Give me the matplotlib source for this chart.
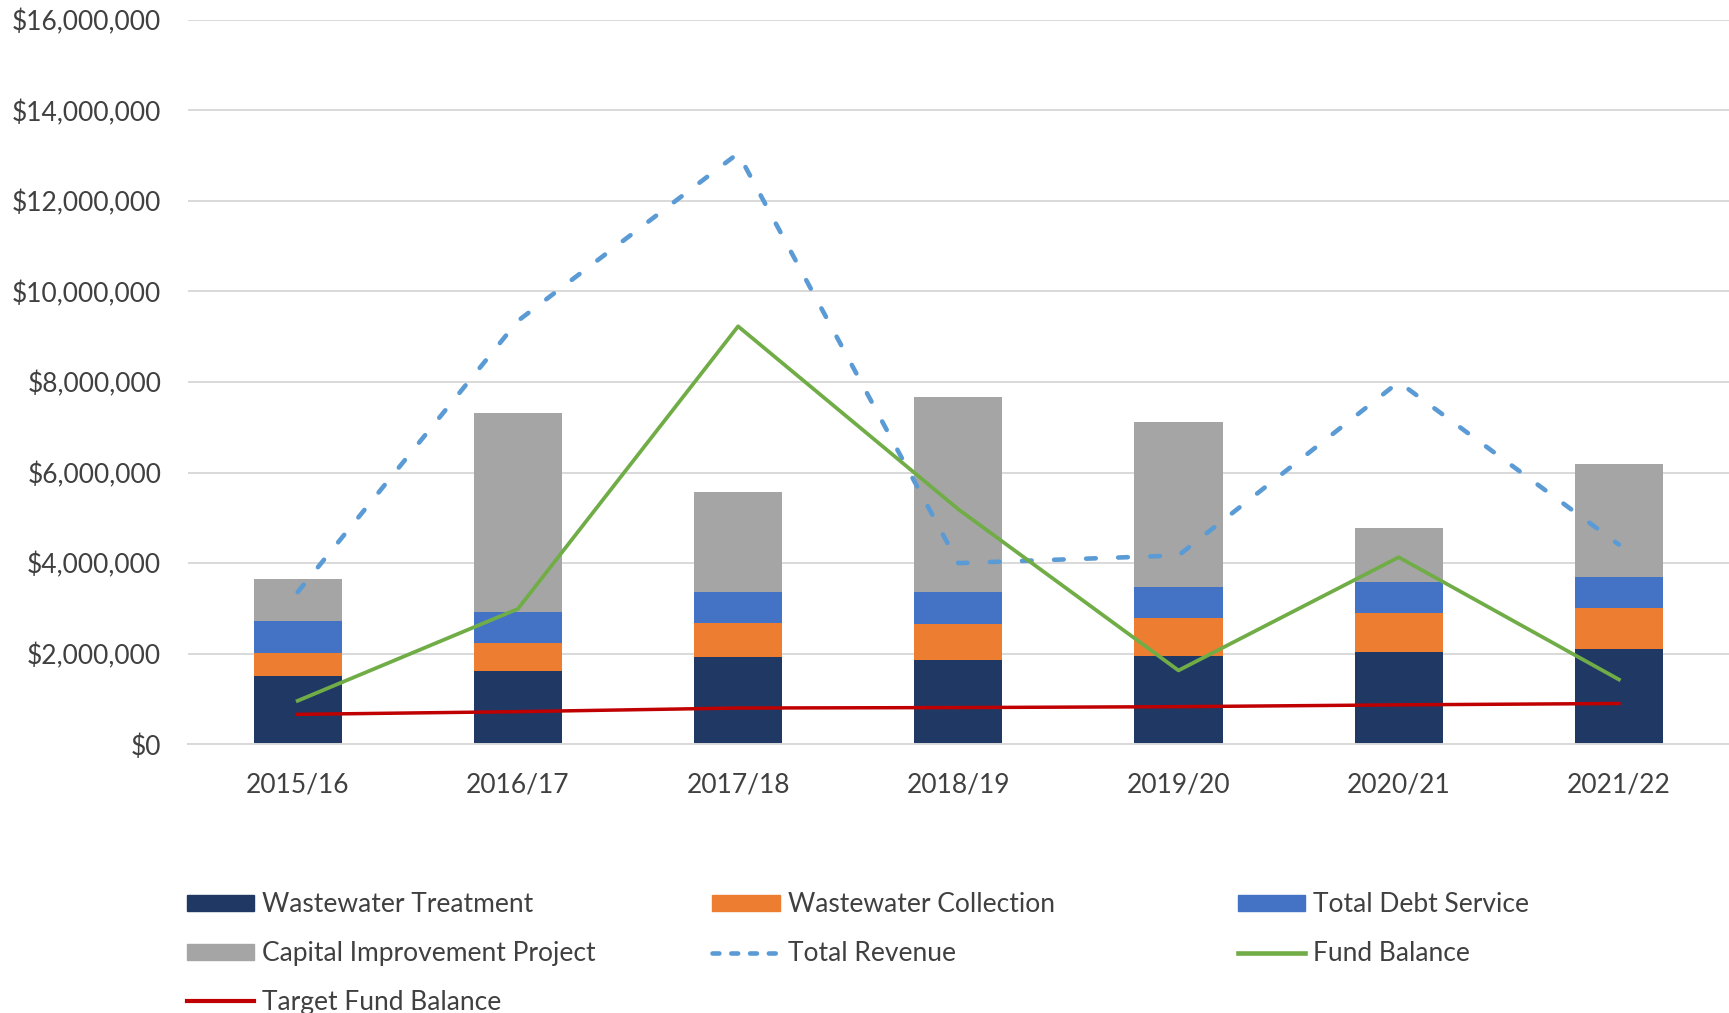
import matplotlib
matplotlib.use("Agg")
import matplotlib.pyplot as plt
from matplotlib.ticker import FuncFormatter, MultipleLocator
from matplotlib.patches import Patch
from matplotlib.lines import Line2D
import numpy as np

plt.rcParams['font.family'] = ['Lato', 'DejaVu Sans']

years = ["2015/16", "2016/17", "2017/18", "2018/19", "2019/20", "2020/21", "2021/22"]
treatment = [1500000, 1620000, 1920000, 1870000, 1950000, 2040000, 2100000]
collection = [510000, 620000, 760000, 790000, 830000, 850000, 910000]
debt_service = [710000, 690000, 680000, 700000, 700000, 700000, 690000]
capital = [940000, 4380000, 2220000, 4310000, 3630000, 1190000, 2500000]
total_revenue = [3360000, 9350000, 13050000, 4000000, 4170000, 8000000, 4410000]
fund_balance = [960000, 2990000, 9230000, 5190000, 1630000, 4130000, 1430000]
target_fund = [660000, 720000, 800000, 810000, 830000, 870000, 900000]

C_TREAT = "#203864"
C_COLL = "#ED7D31"
C_DEBT = "#4472C4"
C_CIP = "#A5A5A5"
C_REV = "#5B9BD5"
C_FUND = "#70AD47"
C_TARGET = "#C00000"
TXT = "#404040"
FS = 19

fig = plt.figure(figsize=(17.29, 10.13), dpi=100)
ax = fig.add_axes([0.1085, 0.2653, 0.8915, 0.7152])

x = np.arange(len(years))
w = 0.4
b1 = np.array(treatment)
b2 = b1 + np.array(collection)
b3 = b2 + np.array(debt_service)
ax.bar(x, treatment, w, color=C_TREAT, zorder=2)
ax.bar(x, collection, w, bottom=b1, color=C_COLL, zorder=2)
ax.bar(x, debt_service, w, bottom=b2, color=C_DEBT, zorder=2)
ax.bar(x, capital, w, bottom=b3, color=C_CIP, zorder=2)

ax.plot(x, total_revenue, color=C_REV, lw=3.3, dashes=(2.1, 4.9),
        dash_capstyle='round', zorder=3)
ax.plot(x, fund_balance, color=C_FUND, lw=2.7, zorder=4)
ax.plot(x, target_fund, color=C_TARGET, lw=2.5, zorder=5)

ax.set_xlim(-0.5, len(years) - 0.5)
ax.set_ylim(0, 16000000)
ax.yaxis.set_major_locator(MultipleLocator(2000000))
ax.yaxis.set_major_formatter(FuncFormatter(lambda v, p: "${:,.0f}".format(v)))
ax.set_xticks(x)
ax.set_xticklabels(years)
ax.grid(axis='y', color="#D9D9D9", lw=1.4, zorder=0)
ax.set_axisbelow(True)
for s in ['left', 'right', 'top']:
    ax.spines[s].set_visible(False)
ax.spines['bottom'].set_color("#D9D9D9")
ax.spines['bottom'].set_linewidth(1.4)
ax.tick_params(axis='y', length=0, pad=19, labelsize=FS, labelcolor=TXT)
ax.tick_params(axis='x', length=0, pad=20, labelsize=FS, labelcolor=TXT)

h_treat = Patch(color=C_TREAT, label="Wastewater Treatment")
h_coll = Patch(color=C_COLL, label="Wastewater Collection")
h_debt = Patch(color=C_DEBT, label="Total Debt Service")
h_cip = Patch(color=C_CIP, label="Capital Improvement Project")
h_rev = Line2D([], [], color=C_REV, lw=3.3, dashes=(1.5, 2.6), dash_capstyle='round',
               label="Total Revenue")
h_fund = Line2D([], [], color=C_FUND, lw=3.3, label="Fund Balance")
h_target = Line2D([], [], color=C_TARGET, lw=3.0, label="Target Fund Balance")

cols = [([h_treat, h_cip, h_target], 0.108),
        ([h_coll, h_rev], 0.412),
        ([h_debt, h_fund], 0.716)]
for hs, xpos in cols:
    fig.legend(handles=hs, loc='upper left', bbox_to_anchor=(xpos, 0.119),
               frameon=False, fontsize=FS, labelcolor=TXT, handlelength=2.55,
               handleheight=0.55, handletextpad=0.3, labelspacing=0.9,
               borderpad=0, borderaxespad=0)

fig.savefig("out.png", dpi=100, facecolor="white")
